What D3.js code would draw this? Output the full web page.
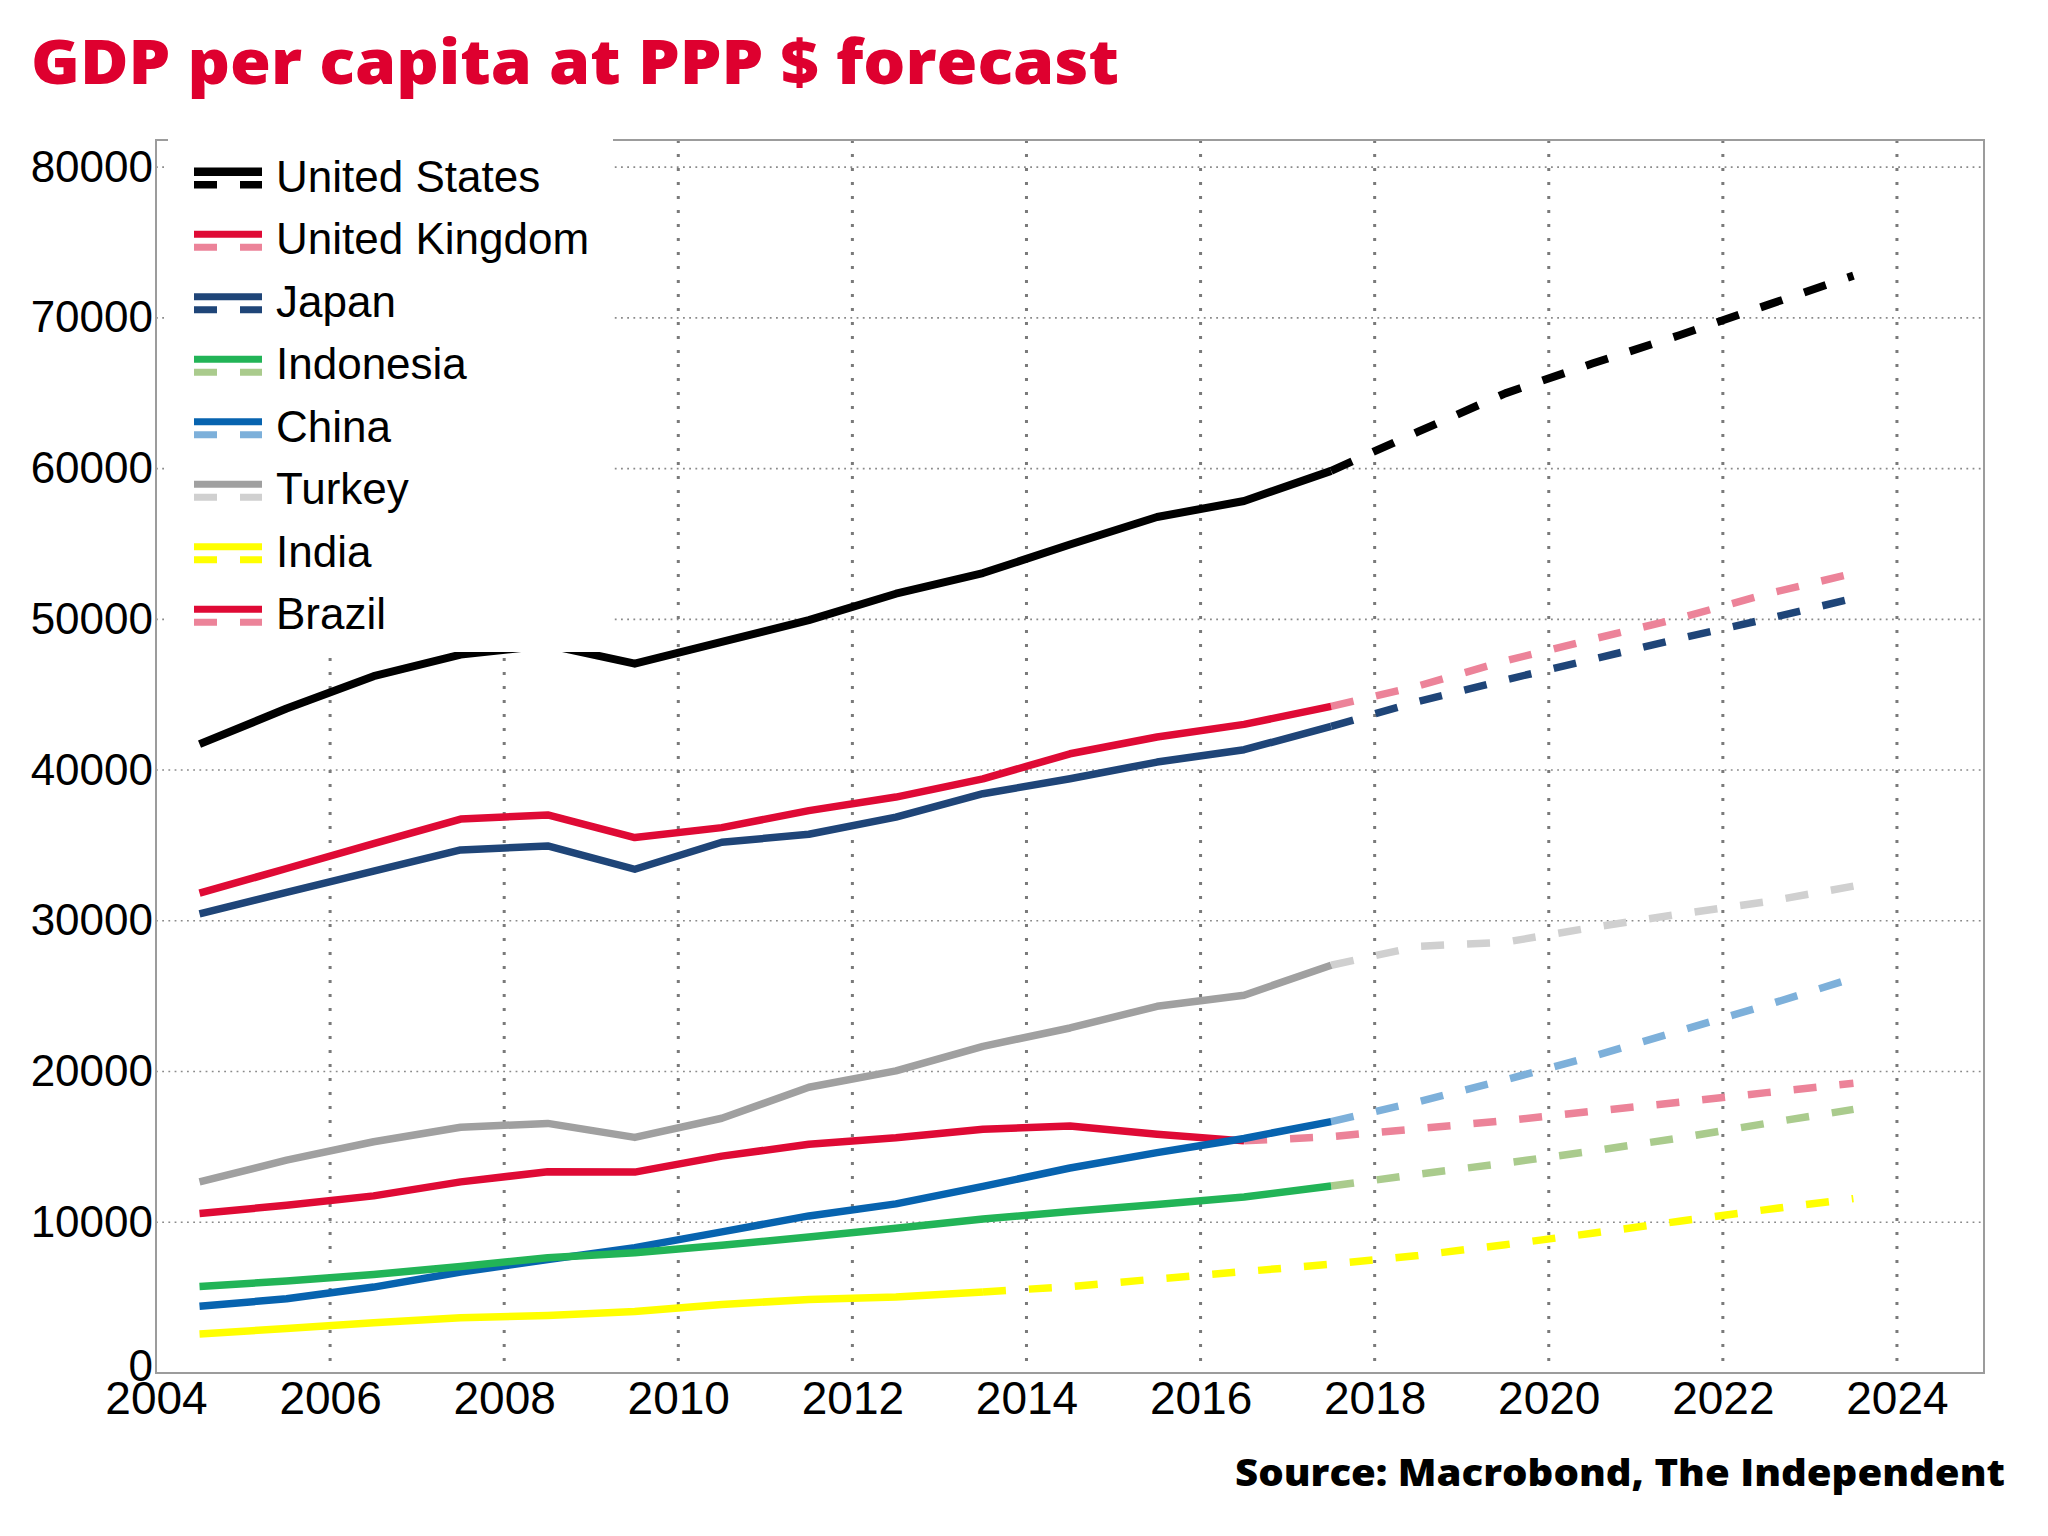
<!DOCTYPE html>
<html>
<head>
<meta charset="utf-8">
<script src="https://cdn.jsdelivr.net/npm/d3@7"></script>
<style>
  html, body { margin: 0; padding: 0; background: #fff; }
  svg { display: block; }
</style>
</head>
<body>
<svg id="chart" width="2048" height="1536"></svg>
<script>
// ---------------- DATA ----------------
const titleText = "GDP per capita at PPP $ forecast";
const sourceText = "Source: Macrobond, The Independent";

const countries = ["United States", "United Kingdom", "Japan", "Indonesia", "China", "Turkey", "India", "Brazil"];

// historical values (mid-year points starting 2004.5)
const histStart = 2004.5;
const usHist = [41720, 44080, 46230, 47660, 48300, 47060, 48500, 49950, 51700, 53070, 54960, 56790, 57850, 59850];
const ukHist = [31830, 33470, 35120, 36750, 37020, 35520, 36180, 37310, 38210, 39420, 41080, 42190, 43030, 44230];
const jpHist = [30460, 31880, 33290, 34700, 34970, 33420, 35210, 35740, 36880, 38430, 39420, 40530, 41350, 42900];
const idHist = [5740, 6100, 6540, 7070, 7650, 7980, 8470, 9020, 9600, 10220, 10710, 11180, 11670, 12400];
const cnHist = [4430, 4920, 5700, 6700, 7520, 8320, 9360, 10420, 11220, 12380, 13600, 14620, 15560, 16680];
const trHist = [12680, 14120, 15340, 16300, 16560, 15630, 16900, 18960, 20040, 21670, 22890, 24330, 25060, 27050];
const inHist = [2590, 2950, 3330, 3660, 3820, 4080, 4550, 4880, 5040, 5380];
const brHist = [10580, 11130, 11750, 12680, 13350, 13330, 14390, 15170, 15600, 16170, 16380, 15840, 15400];

// forecast values (first value repeats last historical point)
const usFcstStart = 2017.5, usFcst = [59850, 62450, 64990, 66970, 68850, 70830, 72800];
const ukFcstStart = 2017.5, ukFcst = [44230, 45580, 47240, 48680, 50070, 51680, 53050];
const jpFcstStart = 2017.5, jpFcst = [42900, 44550, 45980, 47350, 48720, 50020, 51390];
const idFcstStart = 2017.5, idFcst = [12400, 13190, 13920, 14720, 15590, 16560, 17490];
const cnFcstStart = 2017.5, cnFcst = [16680, 18000, 19450, 21000, 22700, 24400, 26200];
const trFcstStart = 2017.5, trFcst = [27050, 28310, 28580, 29560, 30440, 31260, 32300];
const inFcstStart = 2013.5, inFcst = [5380, 5730, 6240, 6730, 7220, 7800, 8510, 9270, 10070, 10840, 11570];
const brFcstStart = 2016.5, brFcst = [15400, 15680, 16210, 16740, 17360, 17960, 18600, 19220];

const solidColors  = ["#000000", "#DF0A35", "#1F4578", "#22B457", "#0763AF", "#A0A0A0", "#FFFF00", "#DF0A35"];
const dashedColors = ["#000000", "#EC8399", "#1F4578", "#AACB8D", "#7DB0DA", "#D0D0D0", "#FFFF00", "#EC8399"];

const xTicks = [2004, 2006, 2008, 2010, 2012, 2014, 2016, 2018, 2020, 2022, 2024];
const yTicks = [0, 10000, 20000, 30000, 40000, 50000, 60000, 70000, 80000];

// ---------------- BUILD SERIES ----------------
const hists = [usHist, ukHist, jpHist, idHist, cnHist, trHist, inHist, brHist];
const fcsts = [usFcst, ukFcst, jpFcst, idFcst, cnFcst, trFcst, inFcst, brFcst];
const fStarts = [usFcstStart, ukFcstStart, jpFcstStart, idFcstStart, cnFcstStart, trFcstStart, inFcstStart, brFcstStart];
const series = countries.map((name, i) => ({
  name,
  hist: hists[i].map((v, j) => ({ x: histStart + j, y: v })),
  fcst: fcsts[i].map((v, j) => ({ x: fStarts[i] + j, y: v })),
  solid: solidColors[i],
  dashed: dashedColors[i]
}));

// ---------------- LAYOUT ----------------
const svg = d3.select("#chart");
svg.append("rect").attr("width", 2048).attr("height", 1536).attr("fill", "#fff");

const plotL = 156, plotR = 1984, plotT = 140, plotB = 1373;
const x = d3.scaleLinear().domain([2004, 2025]).range([plotL, plotR]);
const y = d3.scaleLinear().domain([0, 81800]).range([plotB, plotT]);

const fontMain = "'Liberation Sans', Arial, Helvetica, sans-serif";
const fontHeavy = "'Open Sans', 'Noto Sans', sans-serif";

// title
svg.append("text")
  .attr("x", 31).attr("y", 84)
  .attr("fill", "#DE002F")
  .style("font-family", fontHeavy)
  .style("font-weight", 800)
  .style("font-size", "62px")
  .attr("textLength", 1088).attr("lengthAdjust", "spacingAndGlyphs")
  .text(titleText);

// gridlines horizontal
const g = svg.append("g");
g.selectAll("line.hgrid").data(yTicks.filter(d => d > 0)).join("line")
  .attr("class", "hgrid")
  .attr("x1", plotL).attr("x2", plotR)
  .attr("y1", d => y(d)).attr("y2", d => y(d))
  .attr("stroke", "#8a8a8a").attr("stroke-width", 1.6)
  .attr("stroke-dasharray", "1.8,4.4");

// gridlines vertical
g.selectAll("line.vgrid").data(xTicks.filter(d => d > 2004)).join("line")
  .attr("class", "vgrid")
  .attr("x1", d => x(d)).attr("x2", d => x(d))
  .attr("y1", plotT).attr("y2", plotB)
  .attr("stroke", "#7a7a7a").attr("stroke-width", 3)
  .attr("stroke-dasharray", "3,11");

// frame
svg.append("rect")
  .attr("x", plotL).attr("y", plotT)
  .attr("width", plotR - plotL).attr("height", plotB - plotT)
  .attr("fill", "none").attr("stroke", "#9c9c9c").attr("stroke-width", 2);

// axes (labels only)
const yAxis = d3.axisLeft(y).tickValues(yTicks).tickSize(0).tickPadding(0).tickFormat(d3.format("d"));
const yg = svg.append("g").attr("transform", `translate(${plotL - 3},0)`).call(yAxis);
yg.select(".domain").remove();
yg.selectAll("text")
  .style("font-family", fontMain).style("font-size", "44px").attr("fill", "#000");
// lift the "0" label slightly so it just touches the 2004 label
yg.selectAll(".tick").filter(d => d === 0).select("text").attr("y", -7);

const xAxis = d3.axisBottom(x).tickValues(xTicks).tickSize(0).tickPadding(0).tickFormat(d3.format("d"));
const xg = svg.append("g").attr("transform", `translate(0,${plotB})`).call(xAxis);
xg.select(".domain").remove();
xg.selectAll("text")
  .attr("dy", null).attr("y", 41)
  .style("font-family", fontMain).style("font-size", "46px").attr("fill", "#000");

// lines (reverse legend order so earlier series sit on top)
const line = d3.line().x(d => x(d.x)).y(d => y(d.y));
const lg = svg.append("g");
series.slice().reverse().forEach(s => {
  const w = s.name === "United States" ? 8 : 7.5;
  lg.append("path").datum(s.fcst)
    .attr("d", line).attr("fill", "none")
    .attr("stroke", s.dashed).attr("stroke-width", w)
    .attr("stroke-dasharray", "23,23")
    .attr("stroke-linejoin", "round");
  lg.append("path").datum(s.hist)
    .attr("d", line).attr("fill", "none")
    .attr("stroke", s.solid).attr("stroke-width", w)
    .attr("stroke-linejoin", "round");
});

// legend
const legend = svg.append("g");
legend.append("rect")
  .attr("x", 168).attr("y", 139).attr("width", 445).attr("height", 513)
  .attr("fill", "#fff");
const items = legend.selectAll("g.item").data(series).join("g")
  .attr("class", "item")
  .attr("transform", (d, i) => `translate(0, ${191.7 + 62.5 * i})`);
items.append("line")
  .attr("x1", 194).attr("x2", 262).attr("y1", -20).attr("y2", -20)
  .attr("stroke", d => d.solid).attr("stroke-width", (d, i) => i === 0 ? 8.5 : 7);
items.append("line")
  .attr("x1", 194).attr("x2", 262).attr("y1", -7).attr("y2", -7)
  .attr("stroke", d => d.dashed).attr("stroke-width", (d, i) => i === 0 ? 7.5 : 7)
  .attr("stroke-dasharray", "23,23");
items.append("text")
  .attr("x", 276).attr("y", 0)
  .style("font-family", fontMain).style("font-size", "44px").attr("fill", "#000")
  .text(d => d.name);

// source
svg.append("text")
  .attr("x", 1235).attr("y", 1486)
  .attr("fill", "#000")
  .style("font-family", fontHeavy).style("font-weight", 800).style("font-size", "37px")
  .attr("textLength", 770).attr("lengthAdjust", "spacingAndGlyphs")
  .text(sourceText);
</script>
</body>
</html>
